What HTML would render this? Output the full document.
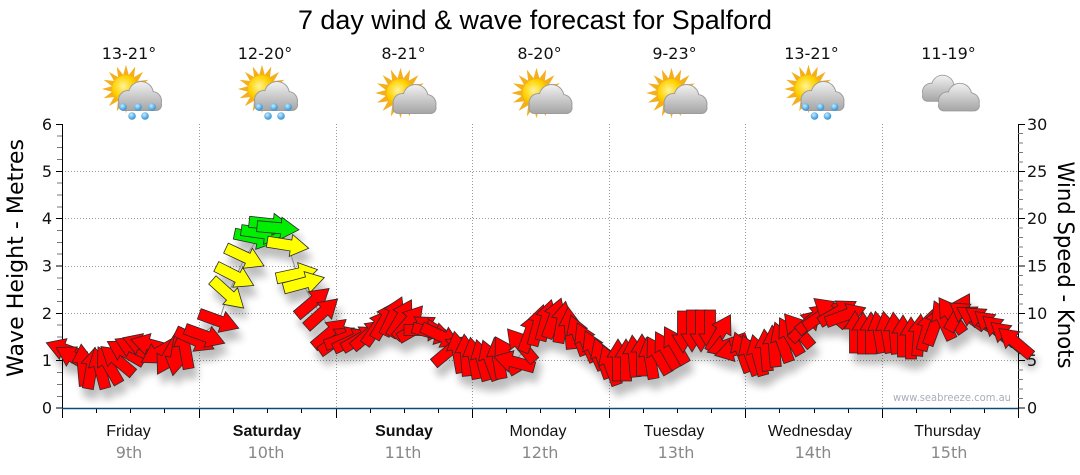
<!DOCTYPE html>
<html><head><meta charset="utf-8"><style>
html,body{margin:0;padding:0;background:#fff;}
svg{display:block;}
</style></head><body>
<svg width="1080" height="475" viewBox="0 0 1080 475" xmlns="http://www.w3.org/2000/svg">
<defs>
<path id="ar" d="M-21,-5.5H3V-11L21,0L3,11V5.5H-21Z" stroke="#2a2a2a" stroke-width="0.8" stroke-linejoin="miter"/>
<filter id="sh" x="-10%" y="-30%" width="120%" height="180%">
<feGaussianBlur in="SourceAlpha" stdDeviation="4"/>
<feOffset dx="4" dy="10" result="o"/>
<feComponentTransfer><feFuncA type="linear" slope="0.26"/></feComponentTransfer>
<feMerge><feMergeNode/><feMergeNode in="SourceGraphic"/></feMerge>
</filter>
<radialGradient id="sunG" cx="40%" cy="40%" r="60%"><stop offset="0" stop-color="#fff39a"/><stop offset="0.6" stop-color="#ffd200"/><stop offset="1" stop-color="#f2a900"/></radialGradient>
<linearGradient id="cloudG" gradientUnits="userSpaceOnUse" x1="0" y1="-16" x2="0" y2="12"><stop offset="0" stop-color="#f0f0f0"/><stop offset="1" stop-color="#a6a6a6"/></linearGradient>
<radialGradient id="dropG" cx="40%" cy="35%" r="65%"><stop offset="0" stop-color="#c8ecff"/><stop offset="1" stop-color="#2a8fd6"/></radialGradient>
<polygon id="rays" fill="#f5ae1c" points="22,0 12.75,2.54 20.33,8.42 10.81,7.22 15.56,15.56 7.22,10.81 8.42,20.33 2.54,12.75 0,22 -2.54,12.75 -8.42,20.33 -7.22,10.81 -15.56,15.56 -10.81,7.22 -20.33,8.42 -12.75,2.54 -22,0 -12.75,-2.54 -20.33,-8.42 -10.81,-7.22 -15.56,-15.56 -7.22,-10.81 -8.42,-20.33 -2.54,-12.75 0,-22 2.54,-12.75 8.42,-20.33 7.22,-10.81 15.56,-15.56 10.81,-7.22 20.33,-8.42 12.75,-2.54"/>
<g id="cloud">
<g fill="#9c9c9c"><circle cx="-10" cy="2" r="10"/><circle cx="3" cy="-4" r="13"/><circle cx="14" cy="3" r="10"/><rect x="-20" y="1" width="44" height="12" rx="6"/></g>
<g fill="url(#cloudG)"><circle cx="-10" cy="2" r="9"/><circle cx="3" cy="-4" r="12"/><circle cx="14" cy="3" r="9"/><rect x="-19" y="2" width="42" height="10" rx="5"/></g>
</g>
<g id="drops" fill="url(#dropG)"><circle cx="-15" cy="9" r="3.8"/><circle cx="0" cy="9" r="3.8"/><circle cx="14" cy="9" r="3.8"/><circle cx="-6" cy="18" r="3.8"/><circle cx="7" cy="18" r="3.8"/></g>
<g id="sunrain"><use href="#rays" transform="translate(-3,89) scale(1.1)"/><circle cx="-3" cy="89" r="14" fill="url(#sunG)"/><use href="#cloud" transform="translate(9,98)"/><use href="#drops" transform="translate(9,98)"/></g>
<g id="suncloud"><use href="#rays" transform="translate(-3,93) scale(1.15)"/><circle cx="-3" cy="93" r="14" fill="url(#sunG)"/><use href="#cloud" transform="translate(9,101)"/></g>
</defs>

<!-- Title -->
<text x="298" y="29" font-family="Liberation Sans, sans-serif" font-size="27" fill="#000" textLength="474" lengthAdjust="spacingAndGlyphs">7 day wind &amp; wave forecast for Spalford</text>

<!-- Temperatures -->
<g font-family="DejaVu Sans, Liberation Sans, sans-serif" font-size="16" fill="#111" text-anchor="middle">
<text x="129" y="59">13-21°</text>
<text x="265" y="59">12-20°</text>
<text x="403.5" y="59">8-21°</text>
<text x="539.5" y="59">8-20°</text>
<text x="674.5" y="59">9-23°</text>
<text x="811.5" y="59">13-21°</text>
<text x="948.5" y="59">11-19°</text>
</g>

<!-- Icons -->
<use href="#sunrain" transform="translate(129,0)"/>
<use href="#sunrain" transform="translate(265,0)"/>
<use href="#suncloud" transform="translate(403.5,0)"/>
<use href="#suncloud" transform="translate(539.5,0)"/>
<use href="#suncloud" transform="translate(674.5,0)"/>
<use href="#sunrain" transform="translate(811.5,0)"/>
<use href="#cloud" transform="translate(940,90) scale(0.9)"/>
<use href="#cloud" transform="translate(957,99) scale(0.95)"/>

<!-- Grid -->
<g stroke="#9a9a9a" stroke-width="1" stroke-dasharray="1 2" fill="none">
<path d="M62,360.5H1018M62,313.5H1018M62,266.5H1018M62,218.5H1018M62,171.5H1018"/>
<path d="M199.5,124V408M336.5,124V408M472.5,124V408M609.5,124V408M745.5,124V408M882.5,124V408"/>
</g>

<!-- Axes -->
<g stroke="#000" stroke-width="1" fill="none">
<path d="M62.5,124V408"/>
<path d="M1018.5,124V408"/>
<path d="M56,408H62M56,360.5H62M56,313.5H62M56,266H62M56,218.5H62M56,171.5H62M56,124.5H62"/>
<path d="M1018,408H1025M1018,360.5H1025M1018,313.5H1025M1018,266H1025M1018,218.5H1025M1018,171.5H1025M1018,124.5H1025"/>
<path d="M62.5,408V418M199.5,408V418M336.5,408V418M472.5,408V418M609.5,408V418M745.5,408V418M882.5,408V418M1018.5,408V418"/>
<path d="M96.5,408V413M130.5,408V413M164.5,408V413M233.5,408V413M267.5,408V413M301.5,408V413M370.5,408V413M404.5,408V413M438.5,408V413M506.5,408V413M540.5,408V413M575.5,408V413M643.5,408V413M677.5,408V413M711.5,408V413M779.5,408V413M814.5,408V413M848.5,408V413M916.5,408V413M950.5,408V413M984.5,408V413"/>
</g>
<g stroke="#777" stroke-width="1" fill="none">
<path d="M57,396.5H62M57,384.5H62M57,372.5H62M57,349H62M57,337H62M57,325H62M57,301.5H62M57,289.5H62M57,278H62M57,254H62M57,242.5H62M57,230.5H62M57,207H62M57,195H62M57,183H62M57,159.5H62M57,147.5H62M57,136H62"/>
<path d="M1018,398.5H1023M1018,389H1023M1018,379.5H1023M1018,370H1023M1018,351H1023M1018,341.5H1023M1018,332H1023M1018,323H1023M1018,304H1023M1018,294.5H1023M1018,285H1023M1018,275.5H1023M1018,256.5H1023M1018,247H1023M1018,237.5H1023M1018,228H1023M1018,209H1023M1018,199.5H1023M1018,190H1023M1018,181H1023M1018,162H1023M1018,152.5H1023M1018,143H1023M1018,133.5H1023"/>
</g>
<path d="M62,408.5H1018" stroke="#0e4a78" stroke-width="1.6"/>

<!-- Axis labels -->
<g font-family="DejaVu Sans, Liberation Sans, sans-serif" font-size="16" fill="#111">
<g text-anchor="end">
<text x="52" y="413.5">0</text>
<text x="52" y="366">1</text>
<text x="52" y="319">2</text>
<text x="52" y="271.5">3</text>
<text x="52" y="224">4</text>
<text x="52" y="177">5</text>
<text x="52" y="130">6</text>
</g>
<text x="1027" y="413.5">0</text>
<text x="1027" y="366">5</text>
<text x="1027" y="319">10</text>
<text x="1027" y="271.5">15</text>
<text x="1027" y="224">20</text>
<text x="1027" y="177">25</text>
<text x="1027" y="130">30</text>
</g>
<text transform="translate(23,258) rotate(-90)" text-anchor="middle" font-family="DejaVu Sans, Liberation Sans, sans-serif" font-size="22" fill="#000" textLength="238" lengthAdjust="spacingAndGlyphs">Wave Height - Metres</text>
<text transform="translate(1058,265) rotate(90)" text-anchor="middle" font-family="DejaVu Sans, Liberation Sans, sans-serif" font-size="22" fill="#000" textLength="207" lengthAdjust="spacingAndGlyphs">Wind Speed - Knots</text>

<!-- Day labels -->
<g font-family="Liberation Sans, sans-serif" font-size="16" fill="#111" text-anchor="middle">
<text x="128.5" y="436">Friday</text>
<text x="267" y="436" font-weight="bold">Saturday</text>
<text x="404" y="436" font-weight="bold">Sunday</text>
<text x="538" y="436">Monday</text>
<text x="674" y="436">Tuesday</text>
<text x="810" y="436">Wednesday</text>
<text x="947.5" y="436">Thursday</text>
</g>
<g font-family="DejaVu Sans, Liberation Sans, sans-serif" font-size="16" fill="#888" text-anchor="middle">
<text x="129" y="458">9th</text>
<text x="266" y="458">10th</text>
<text x="403" y="458">11th</text>
<text x="540" y="458">12th</text>
<text x="676" y="458">13th</text>
<text x="813" y="458">14th</text>
<text x="949" y="458">15th</text>
</g>

<text x="893" y="401" font-family="DejaVu Sans, Liberation Sans, sans-serif" font-size="11" fill="#a8aebb" textLength="118" lengthAdjust="spacingAndGlyphs">www.seabreeze.com.au</text>

<!-- Arrows -->
<g filter="url(#sh)">
<polyline fill="none" stroke="#888" stroke-width="1" points="66,350 91,368 125,352 160,352 195,340 219,321 228,294 245,257 262,233 278,228 288,245 297,274 313,302 337,340 393,316 441,336 474,358 514,362 554,318 610,365 675,345 701,331 742,352 798,330 830,312 879,332 935,325 959,312 1015,342"/>
<g fill="#ff0000">
<use href="#ar" transform="translate(66,350) rotate(-160)"/>
<use href="#ar" transform="translate(74.5,358) rotate(-150)"/>
<use href="#ar" transform="translate(83,365) rotate(-95)"/>
<use href="#ar" transform="translate(91.5,368) rotate(-80)"/>
<use href="#ar" transform="translate(100,368) rotate(-105)"/>
<use href="#ar" transform="translate(108.5,365) rotate(-120)"/>
<use href="#ar" transform="translate(117,360) rotate(-140)"/>
<use href="#ar" transform="translate(125.5,352) rotate(-150)"/>
<use href="#ar" transform="translate(134,348) rotate(-155)"/>
<use href="#ar" transform="translate(142.5,345) rotate(-160)"/>
<use href="#ar" transform="translate(151,345) rotate(-165)"/>
<use href="#ar" transform="translate(159.5,352) rotate(150)"/>
<use href="#ar" transform="translate(168,356) rotate(120)"/>
<use href="#ar" transform="translate(176.5,355) rotate(100)"/>
<use href="#ar" transform="translate(185,348) rotate(-100)"/>
<use href="#ar" transform="translate(195,340) rotate(25)"/>
<use href="#ar" transform="translate(205,336) rotate(20)"/>
<use href="#ar" transform="translate(219,321) rotate(20)"/>
</g>
<use href="#ar" fill="#ffff00" transform="translate(228,294) rotate(42)"/>
<use href="#ar" fill="#ffff00" transform="translate(235,276) rotate(27)"/>
<use href="#ar" fill="#ffff00" transform="translate(245,257) rotate(25)"/>
<use href="#ar" fill="#00ee00" transform="translate(255,238) rotate(12)"/>
<use href="#ar" fill="#00ee00" transform="translate(262,233) rotate(8)"/>
<use href="#ar" fill="#00ee00" transform="translate(270,224) rotate(6)"/>
<use href="#ar" fill="#00ee00" transform="translate(278,228) rotate(5)"/>
<use href="#ar" fill="#ffff00" transform="translate(288,245) rotate(9)"/>
<use href="#ar" fill="#ffff00" transform="translate(297,274) rotate(-12)"/>
<use href="#ar" fill="#ffff00" transform="translate(304,283) rotate(-15)"/>
<g fill="#ff0000">
<use href="#ar" transform="translate(313,302) rotate(-40)"/>
<use href="#ar" transform="translate(322,313) rotate(-42)"/>
<use href="#ar" transform="translate(330,333) rotate(-40)"/>
<use href="#ar" transform="translate(337,340) rotate(-35)"/>
<use href="#ar" transform="translate(345,338) rotate(-20)"/>
<use href="#ar" transform="translate(353,340) rotate(-25)"/>
<use href="#ar" transform="translate(361,338) rotate(-30)"/>
<use href="#ar" transform="translate(369,334) rotate(-40)"/>
<use href="#ar" transform="translate(377,327) rotate(-55)"/>
<use href="#ar" transform="translate(385,320) rotate(-60)"/>
<use href="#ar" transform="translate(393,316) rotate(-65)"/>
<use href="#ar" transform="translate(401,318) rotate(-60)"/>
<use href="#ar" transform="translate(409,322) rotate(-50)"/>
<use href="#ar" transform="translate(417,328) rotate(-30)"/>
<use href="#ar" transform="translate(425,330) rotate(0)"/>
<use href="#ar" transform="translate(433,333) rotate(15)"/>
<use href="#ar" transform="translate(441,336) rotate(25)"/>
<use href="#ar" transform="translate(450,350) rotate(-40)"/>
<use href="#ar" transform="translate(458,352) rotate(-100)"/>
<use href="#ar" transform="translate(466,355) rotate(-95)"/>
<use href="#ar" transform="translate(474,358) rotate(-100)"/>
<use href="#ar" transform="translate(482,360) rotate(-105)"/>
<use href="#ar" transform="translate(490,360) rotate(-110)"/>
<use href="#ar" transform="translate(498,358) rotate(-100)"/>
<use href="#ar" transform="translate(506,355) rotate(-120)"/>
<use href="#ar" transform="translate(514,362) rotate(-165)"/>
<use href="#ar" transform="translate(521,345) rotate(-130)"/>
<use href="#ar" transform="translate(530,332) rotate(-70)"/>
<use href="#ar" transform="translate(538,325) rotate(-75)"/>
<use href="#ar" transform="translate(546,320) rotate(-75)"/>
<use href="#ar" transform="translate(554,318) rotate(-70)"/>
<use href="#ar" transform="translate(562,322) rotate(-80)"/>
<use href="#ar" transform="translate(570,328) rotate(-95)"/>
<use href="#ar" transform="translate(578,335) rotate(-110)"/>
<use href="#ar" transform="translate(586,342) rotate(-115)"/>
<use href="#ar" transform="translate(594,350) rotate(-115)"/>
<use href="#ar" transform="translate(602,358) rotate(-110)"/>
<use href="#ar" transform="translate(610,365) rotate(-110)"/>
<use href="#ar" transform="translate(618,360) rotate(-90)"/>
<use href="#ar" transform="translate(626,360) rotate(-90)"/>
<use href="#ar" transform="translate(634,356) rotate(-95)"/>
<use href="#ar" transform="translate(642,355) rotate(-90)"/>
<use href="#ar" transform="translate(650,358) rotate(-100)"/>
<use href="#ar" transform="translate(658,355) rotate(-120)"/>
<use href="#ar" transform="translate(666,350) rotate(-120)"/>
<use href="#ar" transform="translate(675,345) rotate(-120)"/>
<use href="#ar" transform="translate(683,332) rotate(90)"/>
<use href="#ar" transform="translate(692,331) rotate(90)"/>
<use href="#ar" transform="translate(701,331) rotate(90)"/>
<use href="#ar" transform="translate(710,331) rotate(90)"/>
<use href="#ar" transform="translate(720,333) rotate(-60)"/>
<use href="#ar" transform="translate(727,345) rotate(160)"/>
<use href="#ar" transform="translate(735,350) rotate(165)"/>
<use href="#ar" transform="translate(742,352) rotate(-110)"/>
<use href="#ar" transform="translate(750,355) rotate(-110)"/>
<use href="#ar" transform="translate(758,355) rotate(-105)"/>
<use href="#ar" transform="translate(766,350) rotate(-95)"/>
<use href="#ar" transform="translate(774,346) rotate(-95)"/>
<use href="#ar" transform="translate(782,342) rotate(-110)"/>
<use href="#ar" transform="translate(790,336) rotate(-120)"/>
<use href="#ar" transform="translate(798,330) rotate(-130)"/>
<use href="#ar" transform="translate(806,325) rotate(-45)"/>
<use href="#ar" transform="translate(814,318) rotate(-40)"/>
<use href="#ar" transform="translate(822,315) rotate(-35)"/>
<use href="#ar" transform="translate(830,312) rotate(-140)"/>
<use href="#ar" transform="translate(838,312) rotate(-30)"/>
<use href="#ar" transform="translate(846,315) rotate(-20)"/>
<use href="#ar" transform="translate(855,332) rotate(-90)"/>
<use href="#ar" transform="translate(863,333) rotate(-90)"/>
<use href="#ar" transform="translate(871,333) rotate(-90)"/>
<use href="#ar" transform="translate(879,332) rotate(-100)"/>
<use href="#ar" transform="translate(887,332) rotate(-100)"/>
<use href="#ar" transform="translate(895,333) rotate(-95)"/>
<use href="#ar" transform="translate(903,336) rotate(-90)"/>
<use href="#ar" transform="translate(911,338) rotate(-90)"/>
<use href="#ar" transform="translate(919,335) rotate(-85)"/>
<use href="#ar" transform="translate(927,330) rotate(-75)"/>
<use href="#ar" transform="translate(935,325) rotate(-70)"/>
<use href="#ar" transform="translate(943,320) rotate(-115)"/>
<use href="#ar" transform="translate(951,315) rotate(-125)"/>
<use href="#ar" transform="translate(959,312) rotate(-60)"/>
<use href="#ar" transform="translate(967,315) rotate(-145)"/>
<use href="#ar" transform="translate(975,318) rotate(-150)"/>
<use href="#ar" transform="translate(983,320) rotate(-145)"/>
<use href="#ar" transform="translate(991,325) rotate(-140)"/>
<use href="#ar" transform="translate(999,330) rotate(-140)"/>
<use href="#ar" transform="translate(1007,336) rotate(-140)"/>
<use href="#ar" transform="translate(1015,342) rotate(-140)"/>
</g>
</g>
</svg>
</body></html>
